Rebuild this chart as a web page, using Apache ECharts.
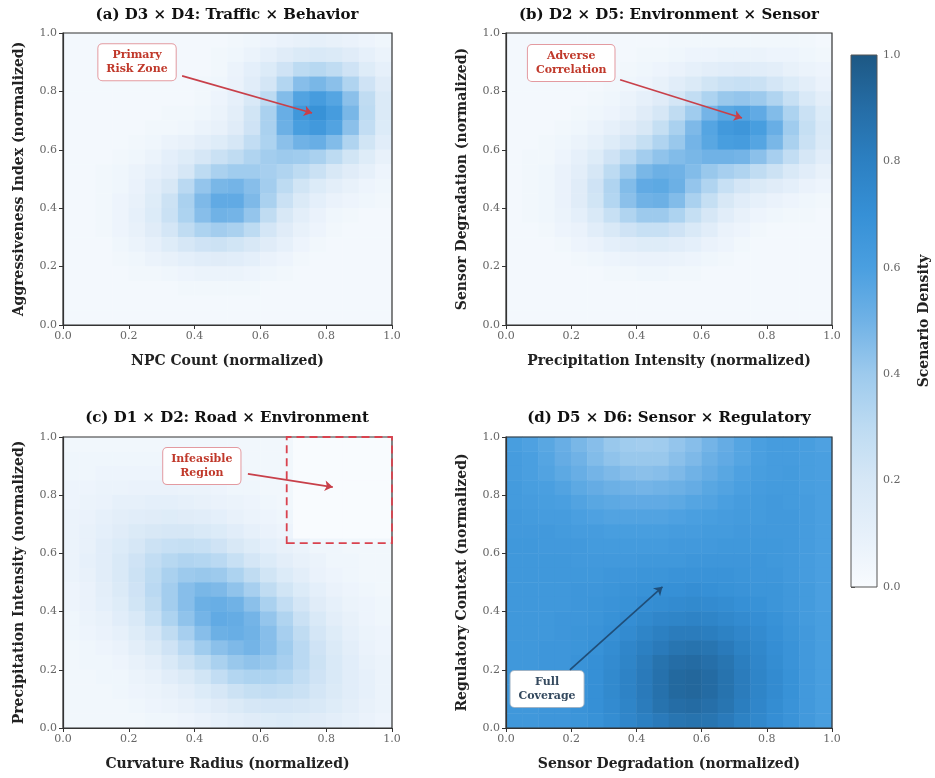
<!DOCTYPE html>
<html>
<head>
<meta charset="utf-8">
<title>Scenario density</title>
<script src="https://cdn.jsdelivr.net/npm/echarts@6/dist/echarts.min.js"></script>
<style>
  html, body {margin:0;padding:0;background:#fff;}
  #chart {width:935px;height:778px;}
</style>
</head>
<body>
<div id="chart"></div>
<script>
// 20 x 20 cells of width 0.05, rows go from the top (y~0.975) to the bottom (y~0.025), values in %
var bins = ['0.025','0.075','0.125','0.175','0.225','0.275','0.325','0.375','0.425','0.475',
            '0.525','0.575','0.625','0.675','0.725','0.775','0.825','0.875','0.925','0.975'];
var ticks = [0, 0.2, 0.4, 0.6, 0.8, 1.0];

var densityA = [
  [3,3,3,3,3,3,3,3,3,3,4,5,6,8,9,10,9,8,6,5],
  [3,3,3,3,3,3,3,3,3,4,5,7,10,14,17,18,17,14,10,7],
  [3,3,3,3,3,3,3,3,3,4,7,11,16,23,30,32,29,23,15,10],
  [3,3,3,3,3,3,3,3,4,5,8,13,21,33,45,48,44,34,23,14],
  [3,3,3,3,3,3,3,3,4,6,10,18,30,46,58,62,57,44,29,17],
  [3,3,3,3,3,3,4,4,5,7,12,22,36,52,65,69,62,48,30,17],
  [3,3,3,3,3,4,4,5,7,9,14,23,36,51,61,64,58,44,28,16],
  [3,3,3,3,4,5,7,9,12,15,20,28,35,44,50,52,46,34,22,13],
  [3,3,3,4,5,7,11,15,20,25,29,34,38,40,39,36,30,22,15,9],
  [3,3,4,5,7,10,13,20,30,36,39,39,37,34,30,25,19,14,10,6],
  [3,3,4,5,8,13,19,31,42,48,49,45,38,30,22,16,12,9,6,5],
  [3,3,4,6,9,15,24,36,47,54,54,47,36,25,17,11,8,6,5,4],
  [3,3,4,6,10,16,25,35,45,50,49,42,29,19,12,8,5,4,3,3],
  [3,3,4,6,9,14,21,29,35,38,36,30,21,14,9,6,4,3,3,3],
  [3,3,3,5,7,10,15,20,23,24,22,19,14,10,6,4,3,3,3,3],
  [3,3,3,4,5,7,9,11,13,14,13,11,8,6,4,3,3,3,3,3],
  [3,3,3,3,4,4,5,6,7,7,7,6,5,4,3,3,3,3,3,3],
  [3,3,3,3,3,3,3,4,4,4,4,4,3,3,3,3,3,3,3,3],
  [3,3,3,3,3,3,3,3,3,3,3,3,3,3,3,3,3,3,3,3],
  [3,3,3,3,3,3,3,3,3,3,3,3,3,3,3,3,3,3,3,3]
];

var densityB = [
  [3,3,3,3,3,3,3,3,3,3,4,4,4,4,4,4,4,4,4,3],
  [3,3,3,3,3,3,3,3,4,4,5,6,6,7,7,7,6,6,5,4],
  [3,3,3,3,3,3,3,4,5,6,8,10,12,13,14,13,12,9,7,6],
  [3,3,3,3,3,3,4,5,6,9,13,17,22,25,26,25,21,16,12,8],
  [3,3,3,3,3,4,5,7,10,14,21,28,35,41,42,40,34,26,18,12],
  [3,3,3,3,4,5,6,9,14,20,29,39,49,56,58,54,46,35,25,16],
  [3,3,3,4,5,7,10,14,19,27,36,47,57,64,66,61,52,39,27,18],
  [3,3,4,5,7,10,15,21,27,34,41,49,56,61,62,57,48,36,25,17],
  [3,4,4,6,10,15,23,31,38,43,46,48,50,50,49,44,37,28,20,13],
  [3,4,5,8,12,20,30,40,48,51,50,46,41,37,34,29,24,18,13,9],
  [3,4,5,8,14,23,34,46,54,55,51,42,34,26,21,17,14,11,8,6],
  [3,4,5,8,14,22,33,44,50,51,46,36,27,19,13,10,8,6,5,4],
  [3,4,5,7,11,18,26,34,40,40,35,27,20,13,9,6,5,4,4,3],
  [3,3,4,6,8,13,18,23,26,26,23,18,13,8,6,4,3,3,3,3],
  [3,3,3,4,6,8,11,13,15,15,13,11,8,6,4,3,3,3,3,3],
  [3,3,3,3,4,5,6,7,8,8,7,6,5,4,3,3,3,3,3,3],
  [3,3,3,3,3,3,4,4,5,5,4,4,3,3,3,3,3,3,3,3],
  [3,3,3,3,3,3,3,3,3,3,3,3,3,3,3,3,3,3,3,3],
  [3,3,3,3,3,3,3,3,3,3,3,3,3,3,3,3,3,3,3,3],
  [3,3,3,3,3,3,3,3,3,3,3,3,3,3,3,3,3,3,3,3]
];

var densityC = [
  [4,4,4,4,4,4,4,4,4,4,4,4,4,4,0,0,0,0,0,0],
  [5,5,5,5,5,5,5,5,4,4,4,4,4,4,0,0,0,0,0,0],
  [5,5,6,6,6,6,6,6,5,5,5,4,4,4,0,0,0,0,0,0],
  [6,6,7,7,8,8,8,7,7,6,5,5,4,4,0,0,0,0,0,0],
  [6,7,8,10,10,11,11,10,9,8,7,6,5,4,0,0,0,0,0,0],
  [7,8,10,12,13,14,15,14,13,11,9,7,6,5,0,0,0,0,0,0],
  [7,9,11,14,17,19,20,20,18,16,13,10,8,6,0,0,0,0,0,0],
  [7,9,13,16,20,24,26,27,26,23,19,15,11,9,7,5,5,4,4,4],
  [7,10,13,18,23,28,32,34,33,31,26,21,16,12,9,7,5,5,4,4],
  [7,9,13,18,24,30,36,40,41,40,35,29,22,16,12,8,6,5,4,4],
  [6,8,12,17,23,31,38,45,48,47,43,37,29,22,16,11,8,6,5,4],
  [6,8,11,15,22,29,38,45,51,52,50,44,36,28,21,14,10,7,6,5],
  [5,7,9,13,18,26,35,43,49,54,53,49,42,34,25,18,12,9,6,5],
  [5,6,8,10,15,21,29,37,45,51,52,50,45,37,29,21,15,10,7,6],
  [4,5,6,8,12,17,23,31,39,44,47,49,45,39,31,23,17,12,8,6],
  [4,5,5,6,9,12,18,24,30,36,41,43,41,37,31,24,18,13,9,7],
  [4,4,5,5,7,9,13,17,22,28,33,35,35,33,28,23,18,13,10,7],
  [4,4,4,5,6,7,9,12,16,20,24,27,28,27,25,21,17,13,10,7],
  [4,4,4,4,5,6,7,9,11,14,17,20,21,21,20,18,15,12,9,7],
  [4,4,4,4,4,5,5,6,8,10,12,14,15,16,15,14,12,10,8,6]
];

var densityD = [
  [61,59,56,52,48,45,41,39,38,39,42,45,49,53,57,60,62,62,61,59],
  [62,60,57,53,50,46,43,41,41,41,44,47,51,54,57,60,62,62,61,60],
  [62,60,58,55,52,49,47,45,44,45,47,50,53,56,59,61,62,63,61,60],
  [63,61,60,58,55,53,51,50,49,50,51,53,56,58,60,62,63,63,61,60],
  [63,62,61,60,58,56,55,54,54,54,55,57,58,60,62,63,64,63,62,60],
  [64,63,62,62,60,59,58,58,58,58,59,60,61,62,63,63,64,64,62,60],
  [64,64,64,63,62,62,61,61,61,61,62,62,63,63,64,64,64,64,62,60],
  [65,65,64,64,64,63,63,63,63,63,64,64,64,65,65,65,65,64,62,60],
  [65,65,65,65,64,64,64,64,65,65,65,66,66,66,66,66,65,64,62,60],
  [65,65,65,65,65,65,66,66,67,67,68,68,68,68,67,66,66,64,62,60],
  [65,65,65,65,66,66,67,68,69,70,70,71,70,69,68,67,67,65,63,60],
  [65,65,65,65,66,67,68,69,71,72,73,74,73,72,70,69,67,65,63,60],
  [65,65,65,66,66,67,69,71,74,76,77,78,77,75,73,71,69,66,63,61],
  [65,65,65,66,67,68,70,73,77,80,82,82,81,79,76,73,70,67,64,61],
  [65,65,66,66,67,69,72,76,80,83,86,87,86,83,79,75,71,68,64,61],
  [65,65,66,66,68,70,73,77,82,87,90,91,89,86,81,76,72,68,64,61],
  [65,65,66,66,68,70,74,78,83,88,92,93,91,87,82,77,73,69,64,61],
  [65,65,66,66,68,70,74,78,83,88,92,93,91,87,82,77,73,69,64,61],
  [65,65,66,66,68,70,73,77,82,87,90,91,89,86,81,76,72,68,64,61],
  [65,65,66,66,67,69,72,76,80,83,86,87,86,83,79,75,71,68,64,61]
];

var titles = [
  '(a) D3 \u00d7 D4: Traffic \u00d7 Behavior',
  '(b) D2 \u00d7 D5: Environment \u00d7 Sensor',
  '(c) D1 \u00d7 D2: Road \u00d7 Environment',
  '(d) D5 \u00d7 D6: Sensor \u00d7 Regulatory'
];
var xNames = ['NPC Count (normalized)', 'Precipitation Intensity (normalized)',
              'Curvature Radius (normalized)', 'Sensor Degradation (normalized)'];
var yNames = ['Aggressiveness Index (normalized)', 'Sensor Degradation (normalized)',
              'Precipitation Intensity (normalized)', 'Regulatory Context (normalized)'];

// annotation text, box centre, arrow start and arrow tip (data coords)
var noteText = ['Primary\nRisk Zone', 'Adverse\nCorrelation', 'Infeasible\nRegion', 'Full\nCoverage'];
var noteBox = [[0.225, 0.90], [0.20, 0.897], [0.422, 0.90], [0.126, 0.134]];
var noteFrom = [[0.362, 0.853], [0.35, 0.84], [0.562, 0.873], [0.196, 0.20]];
var noteTo = [[0.757, 0.726], [0.724, 0.709], [0.82, 0.828], [0.48, 0.485]];
var infeasible = [[0.68, 0.635], [1.0, 1.0]];

var cmap = ['#f8fbfe', '#e6f0fa', '#d6e7f6', '#bddbf2', '#9dcaed', '#70b2e6',
            '#4a9fe0', '#3690d6', '#2c80c2', '#256da6', '#1d5884'];

var FONT = 'DejaVu Serif';
var grids = [
  {left: 63, top: 33, width: 329, height: 292},
  {left: 506, top: 33, width: 326, height: 292},
  {left: 63, top: 437, width: 329, height: 291},
  {left: 506, top: 437, width: 326, height: 291}
];

function toCells(grid) {
  var out = [];
  for (var r = 0; r < grid.length; r++) {
    for (var c = 0; c < grid[r].length; c++) {
      out.push([c, grid.length - 1 - r, grid[r][c] / 100]);
    }
  }
  return out;
}
var fmt = function (v) { return v.toFixed(1); };

var option = {
  backgroundColor: '#fff',
  animation: false,
  grid: [],
  xAxis: [],
  yAxis: [],
  series: [],
  visualMap: {
    type: 'continuous', show: false, min: 0, max: 1,
    seriesIndex: [0, 1, 2, 3],
    inRange: {color: cmap}
  },
  graphic: []
};

var densities = [densityA, densityB, densityC, densityD];
var titlePos = [[227, 15], [669, 15], [227, 418], [669, 418]];

for (var k = 0; k < 4; k++) {
  var g = grids[k];
  option.grid.push({left: g.left, top: g.top, width: g.width, height: g.height,
    show: true, z: 5, borderColor: '#333', borderWidth: 1.2, backgroundColor: 'rgba(0,0,0,0)'});
  option.xAxis.push({gridIndex: k, type: 'category', data: bins, show: false});
  option.yAxis.push({gridIndex: k, type: 'category', data: bins, show: false});
  option.xAxis.push({
    gridIndex: k, type: 'value', min: 0, max: 1, interval: 0.2, position: 'bottom', z: 6,
    name: xNames[k], nameLocation: 'middle', nameGap: 29,
    nameTextStyle: {fontFamily: FONT, fontWeight: 'bold', fontSize: 14, color: '#222'},
    axisLine: {show: true, lineStyle: {color: '#333', width: 1.2}},
    axisTick: {show: true, length: 4, lineStyle: {color: '#333'}},
    axisLabel: {formatter: fmt, fontFamily: FONT, fontSize: 11, color: '#666', margin: 6},
    splitLine: {show: false}
  });
  option.yAxis.push({
    gridIndex: k, type: 'value', min: 0, max: 1, interval: 0.2, position: 'left', z: 6,
    name: yNames[k], nameLocation: 'middle', nameGap: 37,
    nameTextStyle: {fontFamily: FONT, fontWeight: 'bold', fontSize: 14, color: '#222'},
    axisLine: {show: true, lineStyle: {color: '#333', width: 1.2}},
    axisTick: {show: true, length: 4, lineStyle: {color: '#333'}},
    axisLabel: {formatter: fmt, fontFamily: FONT, fontSize: 11, color: '#666', margin: 6},
    splitLine: {show: false}
  });
  option.graphic.push({
    type: 'text', x: titlePos[k][0], y: titlePos[k][1], z: 10,
    style: {text: titles[k], font: 'bold 15px "DejaVu Serif"', fill: '#111',
            align: 'center', verticalAlign: 'middle'}
  });
}

// heatmaps first so visualMap seriesIndex 0..3 point at them
for (var k = 0; k < 4; k++) {
  option.series.push({
    type: 'heatmap', xAxisIndex: 2 * k, yAxisIndex: 2 * k,
    data: toCells(densities[k]),
    itemStyle: {borderWidth: 0},
    emphasis: {disabled: true},
    progressive: 0
  });
}

// annotations
for (var k = 0; k < 4; k++) {
  var blue = k === 3;
  var lineColor = blue ? '#1f4e79' : '#c8404a';
  var s = {
    type: 'scatter', xAxisIndex: 2 * k + 1, yAxisIndex: 2 * k + 1,
    symbolSize: 1, z: 8, silent: true,
    itemStyle: {color: 'rgba(0,0,0,0)', opacity: 1},
    data: [noteBox[k]],
    label: {
      show: true, position: 'inside', formatter: noteText[k], opacity: 1,
      fontFamily: FONT, fontWeight: 'bold', fontSize: 11, lineHeight: 14,
      color: blue ? '#34495e' : '#c0392b', align: 'center',
      backgroundColor: '#fff',
      borderColor: blue ? '#9fb3c6' : '#e39aa0', borderWidth: 1, borderRadius: 4,
      padding: [4, 8]
    },
    markLine: {
      silent: true, z: 9, symbol: ['none', 'arrow'], symbolSize: 8,
      lineStyle: {color: lineColor, width: 1.7, type: 'solid', opacity: 1},
      label: {show: false},
      data: [[{coord: noteFrom[k]}, {coord: noteTo[k]}]]
    }
  };
  if (k === 2) {
    s.markArea = {
      silent: true, z: 9,
      itemStyle: {color: 'rgba(0,0,0,0)', borderColor: '#d9434f', borderWidth: 1.8,
                  borderType: [8, 5], opacity: 1},
      data: [[{coord: infeasible[0]}, {coord: infeasible[1]}]]
    };
  }
  option.series.push(s);
}

// colourbar
option.grid.push({left: 851, top: 55, width: 26, height: 532, show: true, z: 5,
  borderColor: '#555', borderWidth: 1, backgroundColor: 'rgba(0,0,0,0)'});
option.xAxis.push({gridIndex: 4, type: 'value', show: false});
option.yAxis.push({
  gridIndex: 4, type: 'value', min: 0, max: 1, interval: 0.2, position: 'right',
  name: 'Scenario Density', nameLocation: 'middle', nameGap: 40, nameRotate: 90,
  nameTextStyle: {fontFamily: FONT, fontWeight: 'bold', fontSize: 14, color: '#222'},
  axisLine: {show: false},
  axisTick: {show: true, length: 4, lineStyle: {color: '#555'}},
  axisLabel: {formatter: fmt, fontFamily: FONT, fontSize: 11, color: '#666', margin: 6},
  splitLine: {show: false}
});
var stops = cmap.map(function (c, i) { return {offset: i / (cmap.length - 1), color: c}; });
option.graphic.push({
  type: 'rect', z: 1,
  shape: {x: 851, y: 55, width: 26, height: 532},
  style: {fill: new echarts.graphic.LinearGradient(0, 1, 0, 0, stops)}
});

var chart = echarts.init(document.getElementById('chart'), null, {renderer: 'canvas'});
chart.setOption(option);
</script>
</body>
</html>
